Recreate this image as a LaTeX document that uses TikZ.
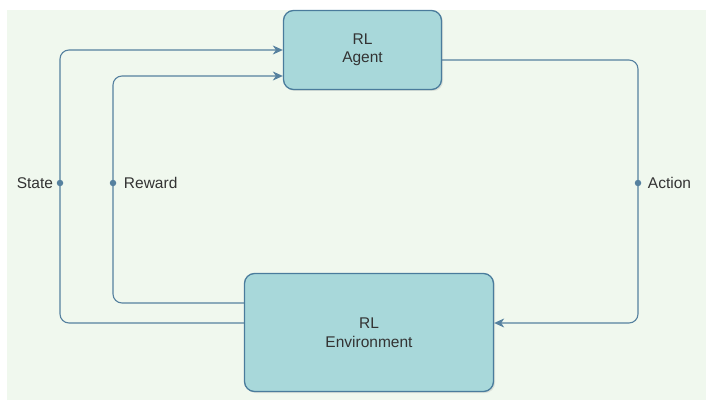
\documentclass[tikz,border=0pt]{standalone}
\usepackage{fontspec}
\setmainfont{Liberation Sans}
\usetikzlibrary{arrows.meta,positioning,shadows}
\definecolor{bgcol}{HTML}{F0F8EE}
\definecolor{boxcol}{HTML}{A8D8DA}
\definecolor{edgecol}{HTML}{4A7C9C}
\definecolor{linecol}{HTML}{56819F}
\definecolor{txtcol}{HTML}{333333}

\begin{document}
\begin{tikzpicture}[x=1pt,y=-1pt,
  block/.style={draw=edgecol, line width=1.3pt, fill=boxcol, rounded corners=10pt,
    align=center, text=txtcol, font=\fontsize{15.5}{18.5}\selectfont,
    drop shadow={opacity=0.2, shadow xshift=1.5pt, shadow yshift=-1.5pt}},
  link/.style={draw=linecol, line width=1.1pt, rounded corners=9pt},
  tip/.style={-{Stealth[length=10pt,width=9pt,inset=3pt]}},
  knot/.style={circle, fill=linecol, inner sep=0pt, minimum size=6.5pt},
  tag/.style={text=txtcol, font=\fontsize{15.5}{18.5}\selectfont}]

  % Canvas
  \useasboundingbox (0,0) rectangle (706,401);
  \fill[bgcol] (7,10) rectangle (706,400);

  % The two blocks
  \node[block, minimum width=158pt, minimum height=79pt] (agent) at (362.5,50) {RL\\Agent};
  \node[block, minimum width=249pt, minimum height=118pt] (env) at (369,332.5) {RL\\Environment};

  % Points on the loops
  \node[knot] (sknot) at (60,183) {};
  \node[knot] (rknot) at (113,183) {};
  \node[knot] (aknot) at (638,183) {};
  \node[tag, left=0pt of sknot] (stag) {State};
  \node[tag, right=4pt of rknot] (rtag) {Reward};
  \node[tag, right=3pt of aknot] (atag) {Action};

  % State and reward back to the agent
  \draw[link, tip] ([yshift=9.5pt]env.west) -| (sknot.center) |- (agent.west);
  \draw[link, tip] ([yshift=29.5pt]env.west) -| (rknot.center) |- ([yshift=-26pt]agent.west);

  % Action into the environment
  \draw[link, tip] ([yshift=-10pt]agent.east) -| (aknot.center) |- ([yshift=9.5pt]env.east);
\end{tikzpicture}
\end{document}
